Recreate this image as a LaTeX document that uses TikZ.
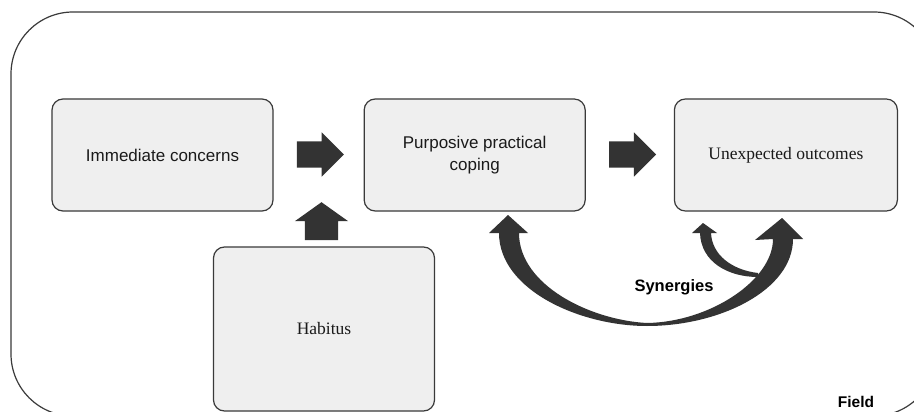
\documentclass[tikz,border=0pt]{standalone}
\usepackage{fontspec}
\setmainfont{Liberation Serif}
\setsansfont{Liberation Sans}
\usepackage{xcolor}
\definecolor{fieldLine}{HTML}{3A3A3A}
\definecolor{boxFill}{HTML}{EFEFEF}
\definecolor{boxBorder}{HTML}{3A3A3A}
\definecolor{arrowDark}{HTML}{333333}
\definecolor{textDark}{HTML}{1A1A1A}
\usepackage{tikz}
\usetikzlibrary{shapes.arrows,positioning,calc}
\tikzset{
    box/.style={
        draw=boxBorder,
        fill=boxFill,
        rectangle,
        rounded corners=11pt,
        align=center,
        line width=1.2pt,
        minimum width=221pt,
        minimum height=112pt,
        text=textDark,
        font=\sffamily\fontsize{17}{21.5}\selectfont
    },
    serifbox/.style={
        box,
        font=\rmfamily\fontsize{17.5}{21.5}\selectfont
    },
    frame/.style={
        draw=fieldLine,
        line width=1.2pt,
        rounded corners=62pt
    },
    blockarrow/.style={
        single arrow,
        draw=none,
        fill=arrowDark,
        anchor=tail,
        inner xsep=0pt,
        inner ysep=13pt,
        minimum height=47pt,
        minimum width=44pt,
        single arrow head extend=9pt
    },
    uparrow/.style={
        blockarrow,
        rotate=90,
        inner ysep=16.5pt,
        minimum height=38pt,
        minimum width=53pt,
        single arrow head extend=10pt,
        single arrow tip angle=109
    },
    curvearrow/.style={
        fill=arrowDark
    },
    label/.style={
        font=\sffamily\bfseries\fontsize{16.5}{20}\selectfont,
        text=black,
        inner sep=0pt
    }
}
\begin{document}
\begin{tikzpicture}[x=1pt, y=-1pt]
    \useasboundingbox (0,0) rectangle (914,412);
    \clip (0,0) rectangle (914,412);
    \fill[white] (0,0) rectangle (914,412);
    \draw[frame] (11,12) rectangle (936,416);

    \node[box] (immediate) at (162.5,155) {Immediate concerns};
    \node[box, right=90pt of immediate] (coping) {Purposive practical\\coping};
    \node[serifbox, right=88pt of coping, minimum width=223pt] (outcomes) {Unexpected outcomes};
    \node[serifbox, minimum height=164pt] (habitus) at (324,329) {Habitus};

    \node[blockarrow] (arrImmCop) at ($(immediate.east)+(23,-0.5)$) {};
    \node[blockarrow] (arrCopOut) at ($(coping.east)+(23,-0.5)$) {};
    \node[uparrow] (arrHabCop) at ($(habitus.north)+(-2.5,-6)$) {};

    \fill[curvearrow] (499,233) .. controls (499,290) and (580,326) .. (647,326)
        .. controls (720,326) and (793,290) .. (793,239)
        -- (803,239) -- (782,218) -- (755,240) -- (773,239)
        .. controls (773,280) and (710,322) .. (647,323)
        .. controls (590,320) and (519,285) .. (519,233)
        -- (528,233) -- (508,215) -- (489,233) -- cycle;
    \fill[curvearrow] (700,233) .. controls (701,262) and (728,277) .. (758,277)
        -- (758,273) .. controls (732,270) and (712,255) .. (711,233)
        -- (717,233) -- (703,223) -- (692,233) -- cycle;

    \node[label] (synergies) at (674,287) {Synergies};
    \node[label, font=\sffamily\bfseries\fontsize{15.5}{18}\selectfont] (field) at (856,402) {Field};
\end{tikzpicture}
\end{document}
